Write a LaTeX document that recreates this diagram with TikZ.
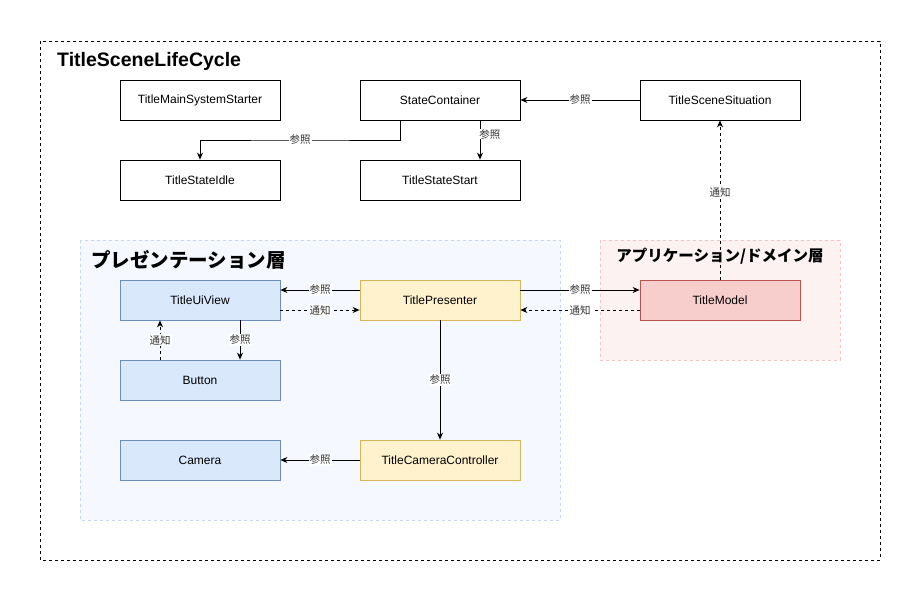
\documentclass[tikz,border=0pt]{standalone}
\usepackage{fontspec}
\setmainfont{Liberation Sans}
\newfontfamily\jp{Noto Sans CJK JP}
\usetikzlibrary{arrows.meta,positioning}
\definecolor{bluefill}{HTML}{DAE8FC}
\definecolor{blueline}{HTML}{6C8EBF}
\definecolor{yelfill}{HTML}{FFF2CC}
\definecolor{yelline}{HTML}{D6B656}
\definecolor{redfill}{HTML}{F8CECC}
\definecolor{redline}{HTML}{B85450}
\definecolor{presfill}{HTML}{F5F8FE}
\definecolor{presline}{HTML}{C9D8F2}
\definecolor{appfill}{HTML}{FDF2F2}
\definecolor{appline}{HTML}{F3C4C4}
\definecolor{lbl}{HTML}{333333}
\tikzset{
  box/.style={draw=black,fill=white,minimum width=160pt,minimum height=40pt,inner sep=0pt,font=\fontsize{12}{14}\selectfont,line width=0.8pt},
  bluebox/.style={box,fill=bluefill,draw=blueline},
  yelbox/.style={box,fill=yelfill,draw=yelline},
  redbox/.style={box,fill=redfill,draw=redline},
  ref/.style={-{Stealth[length=7pt,width=6pt]},line width=0.8pt},
  notif/.style={ref,dash pattern=on 3pt off 3pt},
  elabel/.style={font=\jp\fontsize{10.5}{12}\selectfont,text=lbl,fill=white,inner sep=1pt},
}
\begin{document}
\begin{tikzpicture}[x=1pt,y=-1pt]
\useasboundingbox (0,0) rectangle (919,600);
\fill[white] (0,0) rectangle (919,600);
% outer frame
\draw[dash pattern=on 3pt off 3pt,line width=0.8pt] (40,41) rectangle (880,560);
\node[anchor=west,font=\bfseries\fontsize{19.5}{22}\selectfont,inner sep=0pt] (ttl) at (57,61) {TitleSceneLifeCycle};
% layers
\draw[fill=presfill,draw=presline,dash pattern=on 3pt off 3pt,line width=0.8pt] (80,240) rectangle (560,520);
\node[anchor=west,font=\jp\bfseries\fontsize{19.5}{22}\selectfont,inner sep=0pt] (presT) at (91,260) {プレゼンテーション層};
\draw[fill=appfill,draw=appline,dash pattern=on 3pt off 3pt,line width=0.8pt] (600,240) rectangle (840,360);
\node[font=\jp\bfseries\fontsize{15.5}{18}\selectfont,inner sep=0pt] (appT) at (720,256) {アプリケーション/ドメイン層};
% nodes
\node[box] (mss) at (200,100) {TitleMainSystemStarter};
\node[box] (sc) at (440,100) {StateContainer};
\node[box] (tss) at (720,100) {TitleSceneSituation};
\node[box] (idle) at (200,180) {TitleStateIdle};
\node[box] (start) at (440,180) {TitleStateStart};
\node[bluebox] (ui) at (200,300) {TitleUiView};
\node[yelbox] (pres) at (440,300) {TitlePresenter};
\node[redbox] (model) at (720,300) {TitleModel};
\node[bluebox] (btn) at (200,380) {Button};
\node[bluebox] (cam) at (200,460) {Camera};
\node[yelbox] (tcc) at (440,460) {TitleCameraController};
% edges
\draw[ref] (tss.west) -- node[elabel]{参照} (sc.east);
\draw[ref] ([xshift=-40pt]sc.south) |- (300,140) node[elabel]{参照} -| (idle.north);
\draw[ref] ([xshift=40pt]sc.south) -- node[elabel,right,pos=0.35,inner sep=0pt,xshift=-1pt]{参照} ([xshift=40pt]start.north);
\draw[notif] (model.north) -- node[elabel,pos=0.55]{通知} (tss.south);
\draw[ref] ([yshift=10pt]pres.west) -- node[elabel]{参照} ([yshift=10pt]ui.east);
\draw[notif] ([yshift=-10pt]ui.east) -- node[elabel]{通知} ([yshift=-10pt]pres.west);
\draw[ref] ([yshift=10pt]pres.east) -- node[elabel]{参照} ([yshift=10pt]model.west);
\draw[notif] ([yshift=-10pt]model.west) -- node[elabel]{通知} ([yshift=-10pt]pres.east);
\draw[notif] ([xshift=-40pt]btn.north) -- node[elabel]{通知} ([xshift=-40pt]ui.south);
\draw[ref] ([xshift=40pt]ui.south) -- node[elabel]{参照} ([xshift=40pt]btn.north);
\draw[ref] (pres.south) -- node[elabel]{参照} (tcc.north);
\draw[ref] (tcc.west) -- node[elabel]{参照} (cam.east);
\end{tikzpicture}
\end{document}
